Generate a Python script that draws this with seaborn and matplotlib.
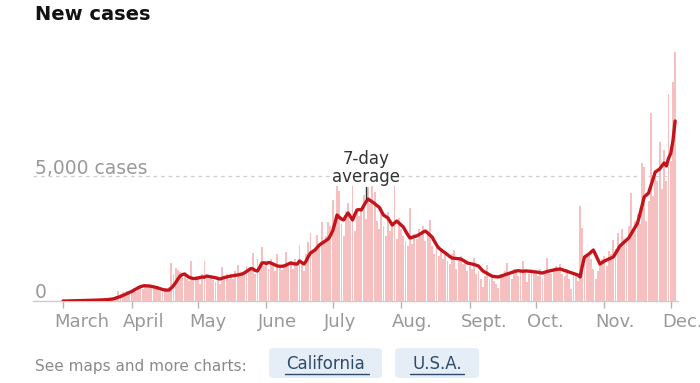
import numpy as np
import pandas as pd
import seaborn as sns
import matplotlib.pyplot as plt
from matplotlib.patches import FancyBboxPatch
from matplotlib.lines import Line2D

# ---------------- data (California new cases, Mar 1 - Dec 3) ----------------
month_labels = ['March', 'April', 'May', 'June', 'July', 'Aug.', 'Sept.', 'Oct.', 'Nov.', 'Dec.']

# daily reported cases, one list per month
daily_mar = [0, 0, 0, 4, 6, 8, 12, 15, 14, 20, 22, 28, 24, 30, 35, 36, 40, 42, 48, 50, 58, 70,
             80, 100, 200, 420, 280, 350, 300, 420, 380]
daily_apr = [420, 520, 380, 560, 650, 480, 700, 620, 560, 640, 520, 480, 600, 400, 380, 520,
             420, 560, 1520, 1100, 1320, 1250, 1150, 950, 1000, 880, 820, 1600, 900, 1000]
daily_may = [950, 700, 1100, 1600, 1000, 900, 1050, 850, 780, 1000, 700, 1360, 950, 1100, 900,
             1080, 880, 1200, 1440, 1000, 1150, 1080, 1400, 1250, 1300, 1920, 1100, 1700, 1500,
             2160, 1400]
daily_jun = [1600, 1300, 1700, 1500, 1200, 1900, 1350, 1250, 1500, 1960, 1400, 1600, 1300, 1700,
             1450, 2240, 1500, 1200, 1900, 2360, 2720, 2000, 2100, 2640, 2300, 3160, 2400, 2600,
             3160, 3000]
daily_jul = [4040, 3000, 4760, 4400, 3100, 2600, 3600, 3920, 3200, 4720, 2800, 3640, 3400, 3700,
             4240, 3300, 4560, 3900, 4720, 4360, 3200, 2900, 3760, 3000, 2600, 3560, 2800, 3100,
             4760, 2500, 3320]
daily_aug = [2900, 2600, 2400, 2200, 3720, 2300, 2700, 2500, 2900, 2600, 3000, 2400, 2800, 3240,
             2200, 1900, 2300, 1800, 2100, 1700, 2000, 1600, 1500, 1900, 2040, 1300, 1700, 1800,
             1500, 1600, 1200]
daily_sep = [1400, 1300, 1720, 1100, 1200, 900, 560, 1000, 1440, 900, 1000, 800, 700, 520, 1100,
             1000, 1200, 1520, 1100, 900, 1300, 1200, 1000, 1300, 1600, 1200, 760, 1100, 1300, 1200]
daily_oct = [1200, 1000, 1300, 900, 1100, 1720, 1200, 1100, 1300, 1400, 1200, 1480, 1100, 1000,
             1300, 900, 480, 1100, 1000, 800, 3800, 2920, 1500, 1900, 1800, 1700, 1300, 900, 1200,
             1500, 1700]
daily_nov = [1800, 1400, 2000, 1900, 2440, 2100, 2720, 2200, 2900, 2500, 2400, 3000, 4320, 2900,
             3200, 3500, 3100, 5520, 5360, 3200, 4000, 7520, 4200, 5000, 4800, 6360, 4500, 6040,
             4800, 8300]
daily_dec = [5600, 8760, 9960]

# 7-day average, one list per month
avg_mar = [0, 0, 0, 5, 5, 10, 10, 15, 15, 20, 20, 25, 25, 30, 30, 35, 38, 40, 45, 50, 55, 65,
           75, 90, 120, 150, 180, 220, 260, 300, 340]
avg_apr = [380, 430, 480, 530, 570, 600, 610, 605, 600, 585, 565, 545, 520, 490, 460, 440, 435,
           440, 520, 620, 740, 880, 1000, 1060, 1080, 1010, 950, 920, 900, 900]
avg_may = [920, 940, 960, 950, 1000, 980, 960, 950, 930, 900, 880, 910, 940, 960, 980, 1000,
           1010, 1030, 1040, 1060, 1080, 1120, 1180, 1240, 1300, 1280, 1220, 1200, 1350, 1520, 1530]
avg_jun = [1500, 1540, 1520, 1480, 1440, 1400, 1390, 1390, 1400, 1440, 1480, 1520, 1500, 1480,
           1480, 1600, 1540, 1480, 1600, 1780, 1920, 1980, 2040, 2140, 2240, 2300, 2360, 2420,
           2480, 2620]
avg_jul = [2800, 3100, 3440, 3350, 3280, 3240, 3400, 3520, 3380, 3240, 3450, 3640, 3660, 3640,
           3800, 3950, 4080, 4020, 3960, 3900, 3820, 3760, 3600, 3440, 3380, 3320, 3180, 3040,
           3120, 3200, 3120]
avg_aug = [3040, 2960, 2800, 2650, 2520, 2550, 2580, 2600, 2650, 2700, 2760, 2800, 2720, 2640,
           2560, 2400, 2250, 2120, 2050, 1980, 1920, 1850, 1780, 1720, 1710, 1700, 1690, 1680,
           1630, 1580, 1520]
avg_sep = [1500, 1480, 1460, 1430, 1400, 1300, 1200, 1150, 1100, 1050, 1000, 980, 970, 960, 990,
           1020, 1050, 1080, 1110, 1140, 1170, 1200, 1210, 1200, 1190, 1200, 1200, 1190, 1180, 1170]
avg_oct = [1160, 1150, 1130, 1120, 1150, 1180, 1200, 1220, 1240, 1260, 1270, 1280, 1250, 1220,
           1190, 1160, 1130, 1100, 1070, 1040, 960, 1400, 1760, 1820, 1880, 1960, 2040, 1850,
           1650, 1480, 1540]
avg_nov = [1600, 1640, 1680, 1720, 1760, 1900, 2050, 2200, 2280, 2360, 2440, 2520, 2670, 2820,
           2970, 3120, 3450, 3800, 4160, 4240, 4320, 4600, 4880, 5160, 5220, 5280, 5400, 5520,
           5400, 5700]
avg_dec = [5900, 6400, 7200]

daily_months = [daily_mar, daily_apr, daily_may, daily_jun, daily_jul, daily_aug,
                daily_sep, daily_oct, daily_nov, daily_dec]
avg_months = [avg_mar, avg_apr, avg_may, avg_jun, avg_jul, avg_aug,
              avg_sep, avg_oct, avg_nov, avg_dec]

daily = np.concatenate(daily_months)
avg = np.concatenate(avg_months)
df = pd.DataFrame({'day': np.arange(len(daily)), 'cases': daily, 'avg': avg})
month_starts = np.concatenate([[0], np.cumsum([len(m) for m in daily_months[:-1]])])

# ---------------- figure ----------------
sns.set_theme(style='white')
plt.rcParams['font.family'] = ['DejaVu Sans']

fig = plt.figure(figsize=(7, 3.83), dpi=100)
ax = fig.add_axes([33 / 700, 82 / 383, 645 / 700, 256 / 383])

ax.axhline(5000, color='#cfcfcf', lw=0.9, ls=(0, (3, 3)), zorder=0)
sns.barplot(data=df, x='day', y='cases', native_scale=True, color='#f6c0c0',
            saturation=1, width=0.86, errorbar=None, linewidth=0, edgecolor='none',
            ax=ax, zorder=1)
sns.lineplot(data=df, x='day', y='avg', color='#c4141b', lw=2.4, ax=ax, zorder=3)

ax.set_xlim(-13.6, 278.3)
ax.set_ylim(0, 10240)
ax.set_xlabel('')
ax.set_ylabel('')
ax.set_yticks([])
ax.set_xticks(month_starts)
ax.set_xticklabels([])
ax.tick_params(axis='x', length=5, width=1, color='#b5b5b5', bottom=True, pad=0)
for s in ['top', 'right', 'left']:
    ax.spines[s].set_visible(False)
ax.spines['bottom'].set_color('#cccccc')
ax.spines['bottom'].set_linewidth(1)

# month labels (the last one runs off the right edge, as in the source)
for pos, lab in zip(month_starts, month_labels):
    ax.text(pos - 4, -0.082, lab, transform=ax.get_xaxis_transform(), ha='left',
            va='center', fontsize=13, color='#999999', clip_on=False)

# y labels
ytr = ax.get_yaxis_transform()
ax.text(0.003, 5090, '5,000 cases', transform=ytr, ha='left', va='baseline',
        fontsize=13.5, color='#999999')
ax.text(0.003, 130, '0', transform=ytr, ha='left', va='baseline',
        fontsize=13.5, color='#999999')

# annotation
peak_day = 137
ax.text(peak_day, 5320, '7-day\naverage', ha='center', va='center', fontsize=12,
        color='#333333', linespacing=0.95,
        bbox=dict(facecolor='white', edgecolor='none', pad=0.5), zorder=4)
ax.plot([peak_day, peak_day], [4560, 4080], color='#333333', lw=1, zorder=4)

# title
fig.text(35 / 700, 1 - 15 / 383, 'New cases', fontsize=14, fontweight='bold',
         color='#121212', ha='left', va='center')

# footer
fig.text(35 / 700, 1 - 366 / 383, 'See maps and more charts:', fontsize=11,
         color='#8a8a8a', ha='left', va='center')
buttons = [('California', 269, 382, 285, 369), ('U.S.A.', 395, 479, 410, 464)]
for lab, x0, x1, u0, u1 in buttons:
    box = FancyBboxPatch((x0 / 700, 5 / 383), (x1 - x0) / 700, 30 / 383,
                         boxstyle='round,pad=0,rounding_size=0.008',
                         transform=fig.transFigure, facecolor='#e5eef6',
                         edgecolor='none')
    fig.patches.append(box)
    fig.text((x0 + x1) / 2 / 700, 1 - 364 / 383, lab, fontsize=12, color='#2f4b6c',
             ha='center', va='center')
    fig.lines.append(Line2D([u0 / 700, u1 / 700], [1 - 374 / 383, 1 - 374 / 383],
                            transform=fig.transFigure, color='#2f4b6c', lw=1))

fig.savefig('out.png', dpi=100)
